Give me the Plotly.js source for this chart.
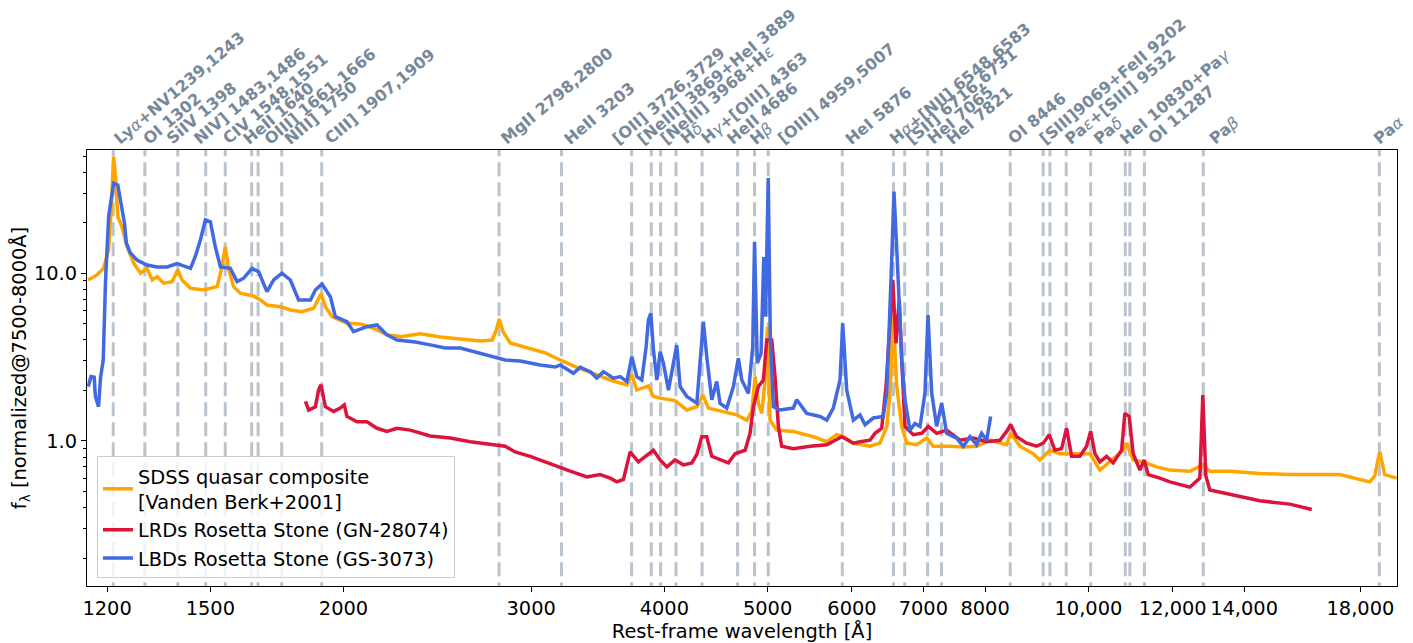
<!DOCTYPE html>
<html><head><meta charset="utf-8">
<script src="https://cdn.plot.ly/plotly-3.0.1.min.js"></script>
<style>html,body{margin:0;padding:0;background:#fff}#chart{width:1413px;height:643px}</style>
</head><body><div id="chart"></div>
<script>
// ---- SDSS quasar composite (Vanden Berk+2001) ----
const sdssWave = [1152,1174,1191,1204,1211,1217,1222,1228,1239,1253,1271,1290,1308,1323,1337,1356,1381,1398,1411,1437,1478,1522,1538,1549,1560,1577,1600,1647,1671,1695,1745,1783,1828,1875,1905,1923,1951,2015,2074,2134,2197,2261,2361,2465,2574,2687,2758,2782,2800,2824,2867,2961,3092,3194,3311,3432,3558,3689,3729,3769,3865,3907,3964,4094,4199,4291,4347,4400,4545,4678,4780,4832,4867,4901,4938,4973,4998,5027,5100,5286,5520,5682,5806,5889,6018,6238,6375,6468,6514,6560,6609,6681,6753,6900,7051,7152,7415,7631,7855,8084,8381,8454,8625,8876,9006,9202,9403,9677,10033,10252,10475,10781,10860,11016,11256,11587,11925,12451,12805,13000,13574,14483,15451,16486,17213,18365,18565,18767,18970,19469];
const sdssFlux = [9.12,9.77,10.7,13.8,24.9,49.6,37.7,21.8,19.0,14.4,11.5,10.0,10.7,9.12,9.54,8.72,8.91,10.5,9.12,8.14,7.95,8.32,10.9,14.4,10.7,8.32,7.60,7.32,6.93,6.47,6.32,6.04,5.90,6.18,7.53,6.32,5.51,5.03,4.98,4.70,4.29,4.19,4.35,4.17,4.06,3.95,4.00,4.59,5.34,4.47,3.84,3.64,3.35,3.04,2.75,2.53,2.31,2.16,2.48,2.01,2.13,1.84,1.80,1.74,1.53,1.60,1.88,1.57,1.50,1.43,1.33,1.50,2.42,1.68,1.46,2.31,4.80,1.33,1.16,1.14,1.06,0.99,1.09,1.06,0.97,0.93,0.97,1.22,1.93,5.51,2.11,1.22,0.97,0.95,1.04,0.93,0.93,0.92,0.93,1.01,0.95,1.11,0.93,0.84,0.77,0.88,0.84,0.84,0.84,0.67,0.75,0.88,0.97,0.77,0.75,0.70,0.67,0.66,0.72,0.66,0.66,0.64,0.63,0.63,0.63,0.57,0.62,0.86,0.63,0.60];

// ---- LRDs Rosetta Stone (GN-28074) ----
const lrdWave = [1842,1855,1882,1895,1905,1923,1958,1986,2003,2015,2059,2104,2150,2197,2245,2310,2412,2519,2630,2746,2836,2898,2994,3092,3160,3194,3264,3384,3482,3558,3610,3662,3689,3715,3782,3865,3907,3964,4022,4094,4168,4245,4291,4337,4384,4432,4512,4594,4661,4763,4814,4849,4901,4955,4991,5045,5081,5118,5155,5286,5480,5682,5869,6018,6105,6238,6306,6398,6458,6504,6552,6599,6646,6681,6728,6850,6975,7075,7205,7362,7577,7798,8027,8260,8381,8454,8564,8751,8942,9070,9188,9302,9438,9540,9644,9818,9961,10048,10142,10252,10401,10550,10744,10820,10921,11016,11177,11281,11379,11670,11925,12451,12723,12805,12888,13000,13574,14483,15451,16204];
const lrdFlux = [1.72,1.53,1.60,2.01,2.16,1.60,1.50,1.57,1.64,1.40,1.30,1.30,1.19,1.14,1.19,1.16,1.07,1.04,0.99,0.96,0.93,0.86,0.81,0.75,0.71,0.70,0.66,0.61,0.63,0.60,0.57,0.59,0.70,0.86,0.75,0.83,0.88,0.77,0.70,0.77,0.72,0.74,0.83,1.06,1.06,0.81,0.77,0.74,0.84,0.88,1.11,1.60,2.11,2.31,4.00,4.00,2.42,1.22,0.93,0.90,0.93,0.95,1.06,0.97,0.99,1.01,1.11,1.19,2.11,4.59,9.12,3.82,6.93,3.04,1.22,1.09,1.11,1.22,1.11,1.16,1.01,1.04,0.99,1.01,1.14,1.25,1.06,0.97,0.93,0.97,1.09,0.88,0.90,1.19,0.81,0.81,0.93,1.14,0.84,0.75,0.81,0.74,0.88,1.46,1.40,0.84,0.67,0.77,0.63,0.60,0.57,0.53,0.60,1.88,0.62,0.51,0.48,0.44,0.42,0.39];

// ---- LBDs Rosetta Stone (GS-3073) ----
const lbdWave = [1152,1159,1167,1170,1178,1183,1190,1196,1204,1217,1228,1235,1246,1251,1262,1280,1308,1337,1366,1396,1437,1452,1468,1484,1500,1516,1533,1566,1589,1612,1641,1665,1695,1720,1751,1783,1815,1862,1882,1909,1944,1965,2015,2044,2104,2150,2197,2245,2335,2412,2492,2574,2658,2746,2836,2930,3059,3160,3194,3287,3335,3408,3457,3507,3584,3636,3689,3729,3769,3810,3846,3865,3885,3907,3936,3964,3992,4036,4079,4109,4139,4199,4291,4337,4352,4384,4432,4480,4512,4578,4644,4694,4729,4797,4842,4861,4890,4930,4959,4978,5007,5030,5063,5136,5286,5325,5441,5600,5682,5763,5847,5881,5932,6018,6105,6172,6283,6420,6468,6538,6570,6617,6681,6728,6801,6875,6950,7025,7071,7128,7205,7283,7362,7523,7631,7742,7855,7940,8027,8096];
const lbdFlux = [2.11,2.42,2.40,1.84,1.60,2.37,3.04,9.12,21.8,34.4,33.6,27.4,19.9,15.1,13.2,12.0,11.2,10.9,10.9,11.4,10.7,12.6,15.8,20.8,20.3,14.4,10.9,10.7,8.91,9.34,10.7,10.2,7.77,9.12,10.0,9.12,6.93,6.93,7.95,8.64,7.25,5.51,5.14,4.48,4.80,4.92,4.29,4.00,3.89,3.74,3.58,3.58,3.39,3.21,3.04,3.00,2.84,2.76,2.84,2.53,2.75,2.59,2.37,2.59,2.37,2.42,2.26,3.18,2.42,2.31,3.65,5.27,5.77,3.49,2.31,3.41,2.91,2.01,2.91,3.73,2.11,1.84,1.68,4.39,5.14,3.18,1.76,2.26,1.68,1.57,2.11,3.11,2.31,1.92,3.65,15.4,2.91,3.33,12.5,5.5,37.0,4.0,1.60,1.53,1.57,1.76,1.46,1.40,1.33,1.57,2.31,5.03,2.01,1.33,1.43,1.25,1.37,1.40,1.93,12.0,30.7,12.0,3.04,1.76,1.16,1.27,1.22,1.93,5.64,1.93,1.22,1.68,1.11,1.04,0.93,1.06,0.95,1.11,1.01,1.40];

// ---- emission lines ----
const lineWave = [1216,1302,1398,1485,1549,1640,1663,1750,1908,2799,3203,3727,3889,3968,4102,4340,4686,4861,5007,5876,6563,6724,7065,7281,8446,9069,9202,9532,10049,10830,10938,11287,12818,18751];
const labelText = ["Lyα+NV1239,1243","OI 1302","SiIV 1398","NIV] 1483,1486","CIV 1548,1551","HeII 1640","OIII] 1661,1666","NIII] 1750","CIII] 1907,1909","MgII 2798,2800","HeII 3203","[OII] 3726,3729","[NeIII] 3869+HeI 3889","[NeIII] 3968+Hε","Hδ","Hγ+[OIII] 4363","HeII 4686","Hβ","[OIII] 4959,5007","HeI 5876","Hα+[NII] 6548,6583","[SII] 6716,6731","HeI 7065","HeI 7821","OI 8446","[SIII]9069+FeII 9202","Paε+[SIII] 9532","Paδ","HeI 10830+Paγ","OI 11287","Paβ","Paα"];
const labelWave = [1216,1302,1398,1485,1549,1640,1663,1750,1908,2799,3203,3727,3889,3968,4102,4340,4686,4861,5007,5876,6563,6724,7065,7281,8446,9069,9532,10049,10830,11287,12818,18751];
// label placement nudges (pixels, style only)
const labelShift = [-3.5,-5.7,-15.4,-15,-6,-12.6,2.5,-1,-1,-1.4,-1.3,-22.8,-17.6,-3.6,0.3,-5.2,-14.7,-8.4,5.7,-0.6,-7.5,-3,-4.7,1.1,-6.6,-7.8,-5,-0.7,-9,-0.1,2.5,-10];

// ---- axis ticks ----
const xTickVals = [1200,1500,2000,3000,4000,5000,6000,7000,8000,10000,12000,14000,18000];
const xTickText = ["1200","1500","2000","3000","4000","5000","6000","7000","8000","10,000","12,000","14,000","18,000"];
const yTickVals = [1,10];
const yTickText = ["1.0","10.0"];
const yMinorVals = [0.2,0.3,0.4,0.5,0.6,0.7,0.8,0.9,2,3,4,5,6,7,8,9,20,30,40,50];

// vertical dashed lines as one trace
const vx = [], vy = [];
lineWave.forEach(w => { vx.push(w, w, null); vy.push(0.01, 1000, null); });

const traces = [
  {x: vx, y: vy, mode: 'lines', line: {color: 'rgba(119,136,153,0.5)', width: 3, dash: '14px,6px'}, showlegend: false, hoverinfo: 'skip'},
  {x: sdssWave, y: sdssFlux, mode: 'lines', name: 'SDSS quasar composite<br>[Vanden Berk+2001]', line: {color: '#FFA500', width: 3.5}},
  {x: lrdWave, y: lrdFlux, mode: 'lines', name: 'LRDs Rosetta Stone (GN-28074)', line: {color: '#DC143C', width: 3.5}},
  {x: lbdWave, y: lbdFlux, mode: 'lines', name: 'LBDs Rosetta Stone (GS-3073)', line: {color: '#4169E1', width: 3.5}}
];

function fmtLabel(s) {
  const greek = /[α-ω]/;
  let out = '', buf = '';
  for (const ch of s) {
    if (greek.test(ch)) {
      if (buf) { out += '<b>' + buf + '</b>'; buf = ''; }
      out += '<i>' + ch + '</i>';
    } else buf += ch;
  }
  if (buf) out += '<b>' + buf + '</b>';
  return out;
}

const annotations = labelText.map((t, i) => ({
  x: Math.log10(labelWave[i]), xref: 'x', y: 1, yref: 'paper',
  text: fmtLabel(t), showarrow: false, textangle: -40,
  xanchor: 'left', yanchor: 'bottom', xshift: labelShift[i], yshift: 2,
  borderpad: 0, borderwidth: 0,
  font: {family: 'DejaVu Sans, sans-serif', size: 16, color: '#778899'}
}));

const layout = {
  width: 1413, height: 643,
  margin: {l: 87, r: 16, t: 150, b: 57},
  paper_bgcolor: '#ffffff', plot_bgcolor: '#ffffff',
  font: {family: 'DejaVu Sans, sans-serif', size: 19.4, color: '#000'},
  showlegend: true,
  xaxis: {
    type: 'log', range: [Math.log10(1149), Math.log10(19480)],
    tickmode: 'array', tickvals: xTickVals, ticktext: xTickText,
    ticks: 'outside', ticklen: 5, tickwidth: 1, tickcolor: '#000',
    showline: true, linecolor: '#000', linewidth: 1, mirror: true,
    showgrid: false, zeroline: false, automargin: false,
    tickfont: {size: 19.4},
    title: {text: 'Rest-frame wavelength [Å]', font: {size: 19.4}, standoff: 6}
  },
  yaxis: {
    type: 'log', range: [-0.865, 1.735],
    tickmode: 'array', tickvals: yTickVals, ticktext: yTickText,
    ticks: 'outside', ticklen: 5, tickwidth: 1, tickcolor: '#000',
    minor: {tickmode: 'array', tickvals: yMinorVals, ticks: 'outside', ticklen: 3, tickwidth: 1, tickcolor: '#000', showgrid: false},
    showline: true, linecolor: '#000', linewidth: 1, mirror: true,
    showgrid: false, zeroline: false, automargin: false,
    tickfont: {size: 19.4},
    title: {text: 'f<sub>λ</sub> [normalized@7500-8000Å]', font: {size: 19.4}, standoff: 2}
  },
  legend: {
    x: 0.0076, y: 0.018, xanchor: 'left', yanchor: 'bottom',
    bgcolor: 'rgba(255,255,255,0.8)', bordercolor: '#cccccc', borderwidth: 1,
    font: {size: 19.4}, tracegroupgap: 0
  },
  annotations: annotations
};

Plotly.newPlot('chart', traces, layout, {displayModeBar: false, staticPlot: true});
</script>
</body></html>
